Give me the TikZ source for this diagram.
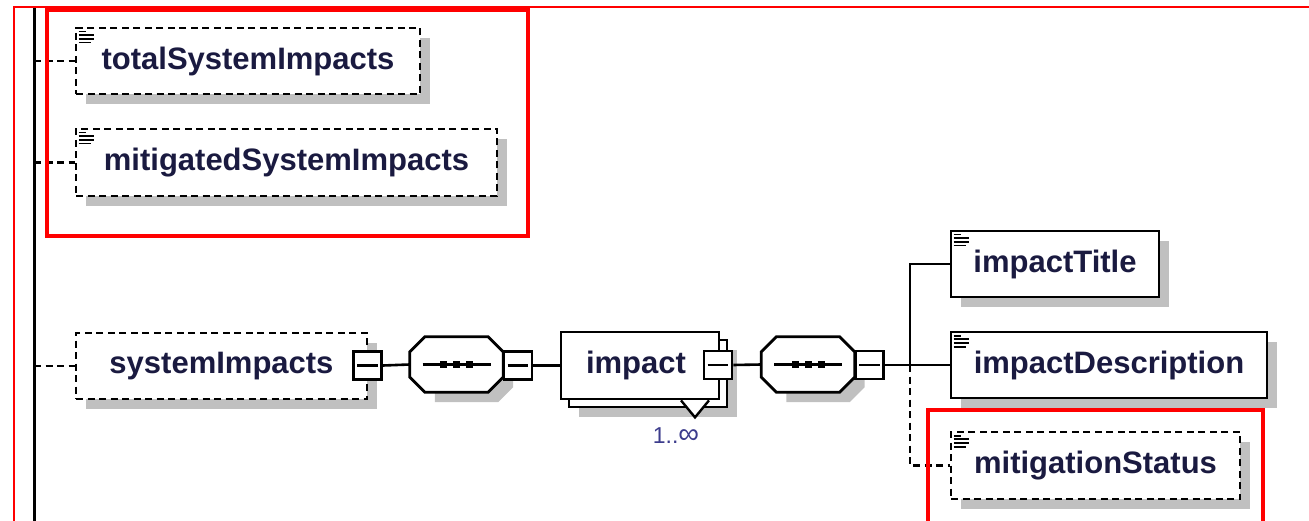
\documentclass[tikz,border=0pt]{standalone}
\usepackage{fontspec}
\setmainfont{Liberation Sans}
\usetikzlibrary{shadows,calc}
\definecolor{txt}{HTML}{1A1A40}
\definecolor{shd}{HTML}{C0C0C0}
\definecolor{occ}{HTML}{3C3C8C}
\definecolor{rd}{HTML}{FF0000}
\newcommand\xicon[1]{%
  \foreach \yy/\ll in {5/7,8.7/15,12.4/15,16/12}
    \draw[line width=1.8pt] ([shift={(4,\yy)}]#1.north west) -- ++(\ll,0);}
\newcommand\minusline[1]{%
  \draw[line width=2.2pt] ([xshift=5pt]#1.west) -- ([xshift=-5pt]#1.east);}
\newcommand\octa[1]{%
  \fill[shd] ([shift={(25,10)}]#1.north west) -- ([shift={(-5,10)}]#1.north east)
    -- ([shift={(10,5)}]#1.east) -- ([shift={(10,-5)}]#1.south east) -- ([shift={(-5,10)}]#1.south east)
    -- ([shift={(25,10)}]#1.south west) -- cycle;
  \draw[line width=2.8pt, fill=white] ([xshift=15pt]#1.north west) -- ([xshift=-15pt]#1.north east)
    -- ([yshift=-15pt]#1.north east) -- ([yshift=15pt]#1.south east)
    -- ([xshift=-15pt]#1.south east) -- ([xshift=15pt]#1.south west)
    -- ([yshift=15pt]#1.south west) -- ([yshift=-15pt]#1.north west) -- cycle;
  \draw[line width=2.4pt] ([xshift=-34pt]#1.center) -- ([xshift=34pt]#1.center);
  \foreach \dx in {-13,0,13}
    \fill ([shift={(\dx-3.5,-3.5)}]#1.center) rectangle ([shift={(\dx+3.5,3.5)}]#1.center);}
\begin{document}
\begin{tikzpicture}[x=1pt,y=-1pt,
  elem/.style={draw=black, line width=2.8pt, fill=white, inner sep=0pt,
    font=\fontsize{31}{36}\selectfont\bfseries, text=txt, anchor=center},
  optelem/.style={elem, dash pattern=on 7pt off 4.5pt},
  shad/.style={drop shadow={shadow xshift=10pt, shadow yshift=-10pt, fill=shd, opacity=1}},
  minusbox/.style={draw=black, line width=2.8pt, fill=white, inner sep=0pt, minimum size=28pt, anchor=center},
  octnode/.style={draw=none, inner sep=0pt, minimum width=93pt, minimum height=55pt, anchor=center},
  conn/.style={draw=black, line width=2.6pt},
  dconn/.style={conn, dash pattern=on 7pt off 4.5pt},
  redbox/.style={draw=rd, line width=4.5pt},
]
\useasboundingbox (0,0) rectangle (1309,521);
\clip (0,0) rectangle (1309,521);

% trunk
\coordinate (trunkTop) at (34,8);
\coordinate (trunkBot) at (34,521);
\draw[line width=3pt] (trunkTop) -- (trunkBot);

% top group
\node[optelem, shad, minimum width=344pt, minimum height=66pt] (tsi) at (248,61) {totalSystemImpacts};
\xicon{tsi}
\node[optelem, shad, minimum width=421pt, minimum height=67pt] (msi) at (286.5,162.5) {mitigatedSystemImpacts};
\xicon{msi}
\draw[dconn] (tsi.west -| trunkTop) -- (tsi.west);
\draw[dconn] (msi.west -| trunkTop) -- (msi.west);

% systemImpacts
\node[optelem, shad, minimum width=291pt, minimum height=66pt] (si) at (221.5,366) {systemImpacts};
\draw[dconn] (si.west -| trunkTop) -- (si.west);
\node[minusbox] (m1) at (367.5,365.5) {};
\minusline{m1}

% first sequence
\node[octnode] (oct1) at (456.5,364.5) {};
\octa{oct1}
\node[minusbox] (m2) at (518,365.5) {};
\minusline{m2}
\draw[conn] (m1.east) -- (oct1.west);

% impact (repeated element)
\node[elem, shad, minimum width=158pt, minimum height=67pt] (impb) at (648,373.5) {};
\node[elem, minimum width=158pt, minimum height=67pt] (imp) at (640,365.5) {\hspace*{-8pt}impact};
\draw[line width=2.4pt, fill=white] ([xshift=41pt]imp.south) -- ([shift={(55,17)}]imp.south) -- ([xshift=69pt]imp.south);
\node[font=\fontsize{23}{24}\selectfont, text=occ, inner sep=0pt] (occ) at (676,436) {1..{\fontsize{29}{29}\selectfont∞}};
\node[minusbox] (m3) at (718,365) {};
\minusline{m3}
\draw[conn] (m2.east) -- (imp.west);

% second sequence
\node[octnode] (oct2) at (808,364.5) {};
\octa{oct2}
\node[minusbox] (m4) at (869.5,365) {};
\minusline{m4}
\draw[conn] (m3.east) -- (oct2.west);

% children
\node[elem, shad, minimum width=208pt, minimum height=66pt] (title) at (1055,264) {impactTitle};
\xicon{title}
\node[elem, shad, minimum width=316pt, minimum height=66pt] (desc) at (1109,365) {impactDescription};
\xicon{desc}
\node[optelem, shad, minimum width=289pt, minimum height=67pt] (mit) at (1095.5,465.5) {mitigationStatus};
\xicon{mit}
\coordinate (junc) at (910,365);
\draw[conn] (m4.east) -- (junc) -- (desc.west);
\draw[conn] (junc) |- (title.west);
\draw[dconn] (junc) |- (mit.west);

% red highlight frames
\draw[rd, line width=2pt] (14,530) -- (14,7) -- (1320,7);
\draw[redbox] (47,10) rectangle (528,236);
\draw[redbox] (928,410) rectangle (1263,540);
\end{tikzpicture}
\end{document}
